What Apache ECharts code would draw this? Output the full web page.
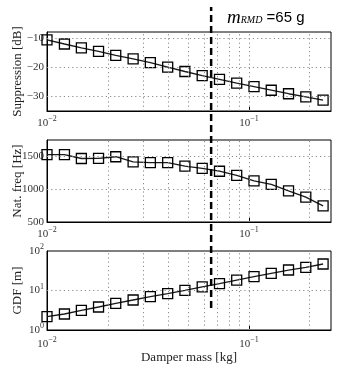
<!DOCTYPE html>
<html>
<head>
<meta charset="utf-8">
<script src="https://cdn.jsdelivr.net/npm/echarts@6/dist/echarts.min.js"></script>
<style>
html,body{margin:0;padding:0;background:#fff;}
#c{width:338px;height:366px;}
</style>
</head>
<body>
<div id="c"></div>
<script>
// ---- data ----
const massKg = [0.0100, 0.0122, 0.0148, 0.0180, 0.0219, 0.0267, 0.0325, 0.0396, 0.0482, 0.0587, 0.0715, 0.0870, 0.1060, 0.1290, 0.1571, 0.1913, 0.2330];
const suppressionDb = [-10.7, -12.1, -13.4, -14.6, -16.0, -17.2, -18.5, -20.0, -21.5, -22.9, -24.2, -25.5, -26.7, -27.9, -29.1, -30.2, -31.3];
const natFreqHz = [1526, 1526, 1468, 1470, 1495, 1416, 1405, 1405, 1353, 1316, 1274, 1210, 1126, 1074, 974, 879, 747];
const gdfM = [2.18, 2.54, 3.15, 3.82, 4.73, 5.75, 6.98, 8.32, 10.1, 12.3, 14.9, 18.4, 22.4, 27.2, 33.0, 38.6, 46.9];
const rmdMass = 0.065;
const xGridValues = [0.02, 0.03, 0.04, 0.05, 0.06, 0.07, 0.08, 0.09, 0.1, 0.2];
const suppGrid = [-10, -20, -30];
const freqGrid = [1000, 1500];
const gdfGrid = [10];
const yNames = ['Suppression [dB]', 'Nat. freq [Hz]', 'GDF [m]'];
const xName = 'Damper mass [kg]';

const SERIF = 'Liberation Serif';
const LBL = '#333';
const rich = {
  b: {fontFamily: SERIF, fontSize: 11, color: LBL},
  s: {fontFamily: SERIF, fontSize: 8, color: LBL, padding: [0, 0, 8, 0]}
};
function powLabel(v) {
  const l = Math.log10(v);
  const e = Math.round(l);
  if (Math.abs(l - e) > 1e-6) return '';
  const es = e < 0 ? '\u2212' + Math.abs(e) : String(e);
  return '{b|10}{s|' + es + '}';
}

const grids = [
  {left: 47, right: 7, top: 32, height: 79},
  {left: 47, right: 7, top: 140, height: 82},
  {left: 47, right: 7, top: 251, height: 79},
  {left: 47, right: 7, top: 7, height: 301}
].map((g, i) => Object.assign(g, {show: i < 3, borderColor: '#000', borderWidth: 1,
  backgroundColor: 'transparent', containLabel: false, outerBoundsMode: 'none'}));

function xAxis(i) {
  return {
    type: 'log', logBase: 10, min: 0.01, max: 0.255, gridIndex: i,
    show: i < 3,
    axisLine: {lineStyle: {color: '#000', width: 1}},
    axisTick: {inside: true, length: 4, lineStyle: {color: '#000'}},
    splitLine: {show: false},
    axisLabel: {formatter: powLabel, rich: rich, margin: i === 2 ? 6 : 4, showMaxLabel: false, showMinLabel: true, hideOverlap: false},
    name: i === 2 ? xName : '',
    nameLocation: 'middle', nameGap: 21, nameMoveOverlap: false,
    nameTextStyle: {fontFamily: SERIF, fontSize: 13, color: '#222'}
  };
}
const yBase = (i) => ({
  gridIndex: i,
  axisLine: {lineStyle: {color: '#000', width: 1}},
  axisTick: {show: false},
  splitLine: {show: false},
  name: yNames[i], nameLocation: 'middle', nameGap: 23, nameMoveOverlap: false,
  nameTextStyle: {fontFamily: SERIF, fontSize: 13, color: '#222'}
});

const yAxes = [
  Object.assign(yBase(0), {type: 'value', min: -35, max: -8, interval: 5,
    axisLabel: {margin: 3, fontFamily: SERIF, fontSize: 11, color: LBL, hideOverlap: false,
      formatter: v => (v % 10 === 0 ? '\u2212' + Math.abs(v) : '')}}),
  Object.assign(yBase(1), {type: 'value', min: 500, max: 1750, interval: 500,
    axisLabel: {margin: 3, fontFamily: SERIF, fontSize: 11, color: LBL, showMaxLabel: false, hideOverlap: false,
      formatter: v => (v % 500 === 0 ? String(v) : '')}}),
  Object.assign(yBase(2), {type: 'log', logBase: 10, min: 1, max: 100,
    axisLabel: {margin: 3, formatter: powLabel, rich: rich, hideOverlap: false}}),
  {gridIndex: 3, type: 'value', min: 0, max: 1, show: false}
];

const dotted = {color: '#8a8a8a', width: 1, type: [1.2, 3]};
function gridSeries(i, yVals) {
  const d = xGridValues.map(x => ({xAxis: x})).concat(yVals.map(y => ({yAxis: y})));
  return {
    type: 'line', xAxisIndex: i, yAxisIndex: i, data: [], z: 1, silent: true,
    markLine: {silent: true, symbol: ['none', 'none'], label: {show: false},
      lineStyle: dotted, animation: false, data: d}
  };
}
function dataSeries(i, vals) {
  return {
    type: 'line', xAxisIndex: i, yAxisIndex: i, z: 3,
    data: massKg.map((m, k) => [m, vals[k]]),
    symbol: 'rect', symbolSize: 10,
    lineStyle: {color: '#1a1a1a', width: 1.3},
    itemStyle: {color: 'rgba(0,0,0,0)', borderColor: '#000', borderWidth: 1.3},
    animation: false
  };
}

const chart = echarts.init(document.getElementById('c'), null, {renderer: 'canvas'});
chart.setOption({
  backgroundColor: '#fff',
  animation: false,
  title: {
    left: 222, top: 3,
    text: '{m|m}{sub|RMD}{t| =65 g}',
    textStyle: {
      fontWeight: 'normal',
      rich: {
        m: {fontFamily: SERIF, fontStyle: 'italic', fontWeight: 'normal', fontSize: 19, color: '#000'},
        sub: {fontFamily: SERIF, fontStyle: 'italic', fontWeight: 'normal', fontSize: 10, color: '#000', padding: [6, 0, 0, 0]},
        t: {fontFamily: 'Liberation Sans', fontWeight: 'normal', fontSize: 15, color: '#000'}
      }
    }
  },
  grid: grids,
  xAxis: [0, 1, 2, 3].map(xAxis),
  yAxis: yAxes,
  series: [
    gridSeries(0, suppGrid), gridSeries(1, freqGrid), gridSeries(2, gdfGrid),
    dataSeries(0, suppressionDb), dataSeries(1, natFreqHz), dataSeries(2, gdfM),
    {
      type: 'line', xAxisIndex: 3, yAxisIndex: 3, z: 5,
      data: [[rmdMass, 0], [rmdMass, 1]],
      symbol: 'none',
      lineStyle: {color: '#000', width: 2.5, type: [7, 4]}
    }
  ]
});
</script>
</body>
</html>
